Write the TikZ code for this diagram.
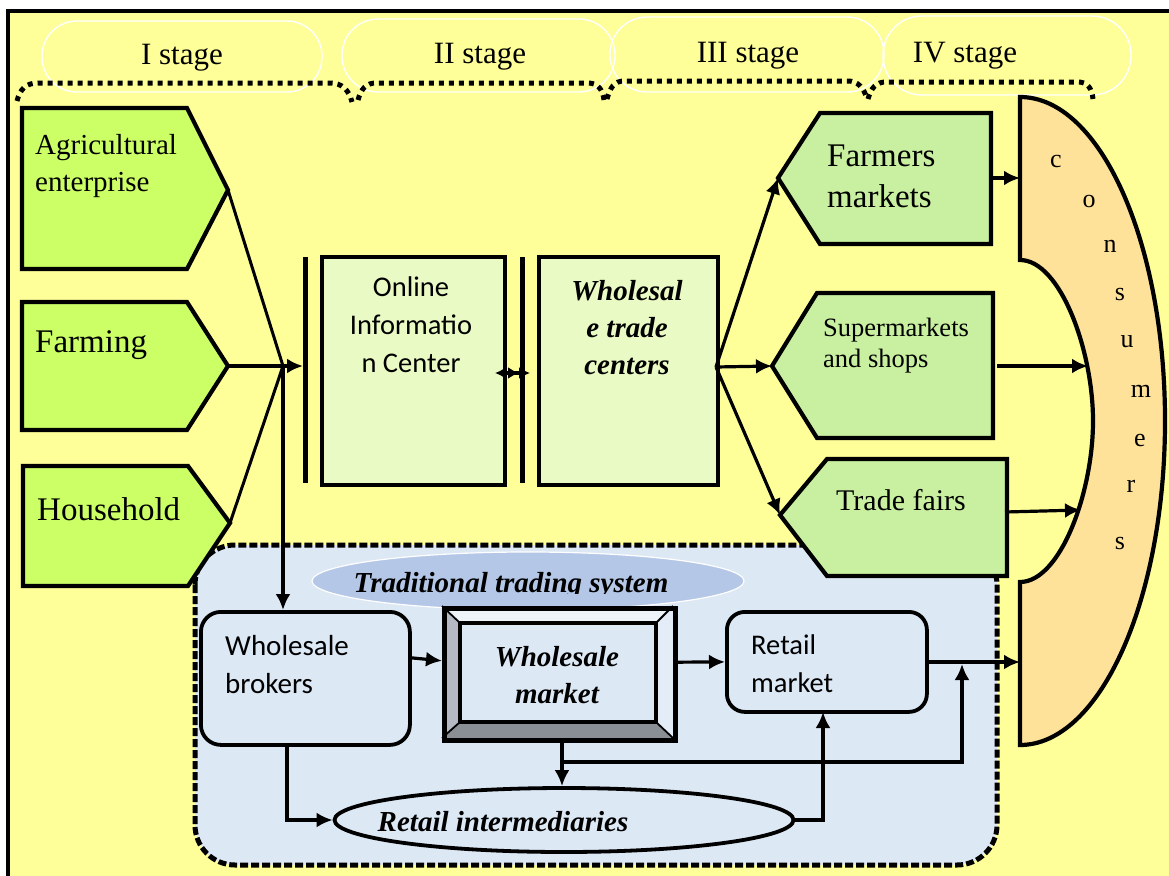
\documentclass[tikz,border=0pt]{standalone}
\usepackage{fontspec}
\setmainfont{Liberation Serif}
\newfontfamily\calibrifont{Carlito}
\usetikzlibrary{arrows.meta,shapes.geometric,calc}
\definecolor{bgyellow}{RGB}{255,255,153}
\definecolor{limeg}{RGB}{204,255,102}
\definecolor{paleg}{RGB}{200,240,160}
\definecolor{palebox}{RGB}{234,250,196}
\definecolor{tradblue}{RGB}{221,232,245}
\definecolor{ellblue}{RGB}{180,199,231}
\definecolor{peach}{RGB}{255,226,154}
\definecolor{bevtop}{RGB}{238,243,250}
\definecolor{bevleft}{RGB}{180,185,196}
\definecolor{bevbot}{RGB}{138,143,150}
\definecolor{bevright}{RGB}{228,236,247}
\begin{document}
\begin{tikzpicture}[x=1pt,y=-1pt,
  pent/.style={draw=black, line width=4.2pt, line join=miter},
  conn/.style={line width=3pt},
  arr/.style={line width=3.2pt, -{Latex[length=16pt,width=15pt]}},
  dotbr/.style={line width=5pt, dash pattern=on 5pt off 5pt},
  bubble/.style={draw=white, line width=1.4pt},
  stagelbl/.style={font=\fontsize{31pt}{36pt}\selectfont, inner sep=0pt},
  tms/.style={inner sep=0pt, align=left},
  cal/.style={inner sep=0pt, font=\calibrifont\fontsize{28.5pt}{38pt}\selectfont},
  bi/.style={inner sep=0pt, font=\bfseries\itshape\fontsize{29pt}{37pt}\selectfont},
  boxg/.style={draw=black, line width=3.8pt, fill=palebox, anchor=north west, inner sep=0pt},
  rbox/.style={draw=black, line width=3.8pt, fill=tradblue, anchor=north west, inner sep=0pt, rounded corners=20pt},
  letter/.style={inner sep=0pt, font=\fontsize{26pt}{30pt}\selectfont}
]
\useasboundingbox (0,0) rectangle (1169,875);
\clip (0,0) rectangle (1169,875);
\fill[white] (0,0) rectangle (1169,875);
\draw[line width=4pt, fill=bgyellow] (8,11) rectangle (1190,895);

% stage bubbles
\draw[bubble, rounded corners=35pt] (42,21) rectangle (322,92);
\draw[bubble, rounded corners=36pt] (342,19) rectangle (615,92);
\draw[bubble, rounded corners=37pt] (610,17) rectangle (884,92);
\draw[bubble, rounded corners=39pt] (883,16) rectangle (1131,95);
\node[stagelbl] (s1) at (182,58) {I stage};
\node[stagelbl] (s2) at (480,57) {II stage};
\node[stagelbl] (s3) at (748,56) {III stage};
\node[stagelbl] (s4) at (965,56) {IV stage};

% dotted brackets
\draw[dotbr] (17,101) .. controls (20,89) and (26,83) .. (38,83) -- (330,83) .. controls (342,83) and (349,90) .. (352,102);
\draw[dotbr] (358,100) .. controls (361,89) and (366,83) .. (376,83) -- (588,83) .. controls (598,83) and (603,90) .. (604,100);
\draw[dotbr] (607,99) .. controls (610,88) and (614,81) .. (624,81) -- (848,81) .. controls (858,81) and (864,88) .. (867,99);
\draw[dotbr] (868,99) .. controls (871,88) and (876,82) .. (886,82) -- (1078,82) .. controls (1088,82) and (1092,89) .. (1093,99);

% traditional trading system region
\draw[line width=5pt, dash pattern=on 8pt off 3pt, fill=tradblue, rounded corners=40pt] (195,545) rectangle (997,865);

% left pentagons
\draw[pent, fill=limeg] (22,108) -- (187,108) -- (228,190) -- (187,269) -- (22,269) -- cycle;
\draw[pent, fill=limeg] (22,302) -- (187,302) -- (228,366) -- (187,430) -- (22,430) -- cycle;
\draw[pent, fill=limeg] (23,466) -- (188,466) -- (230,523) -- (188,586) -- (23,586) -- cycle;
\coordinate (agtip) at (228,190);
\coordinate (fmtip) at (228,366);
\coordinate (hhtip) at (230,523);
\node[tms, anchor=west, font=\fontsize{29pt}{37pt}\selectfont] (agtext) at (35,166) {Agricultural\\enterprise};
\node[tms, anchor=west, font=\fontsize{33pt}{38pt}\selectfont] (fmtext) at (35,345) {Farming};
\node[tms, anchor=west, font=\fontsize{33pt}{38pt}\selectfont] (hhtext) at (37,509) {Household};

% junction and bars
\coordinate (J) at (283,366);
\coordinate (bar1m) at (303,366);
\draw[line width=5pt] (305,257) -- (305,483);
\draw[line width=5pt] (522,257) -- (522,483);
\draw[conn] (agtip) -- (J);
\draw[conn] (hhtip) -- (J);
\draw[arr] (fmtip) -- (bar1m);

% online information center and wholesale trade centers
\node[boxg, minimum width=183pt, minimum height=228pt] (oic) at (320,255) {};
\node[cal, align=center] (oictext) at (411,325) {Online\\Informatio\\n Center};
\node[boxg, minimum width=179pt, minimum height=228pt] (wtc) at (537,255) {};
\node[bi, align=center] (wtctext) at (627,328) {Wholesal\\e trade\\centers};
\coordinate (oicR) at (495,373);
\coordinate (wtcL) at (530,373);
\draw[line width=3.2pt, {Latex[length=11pt,width=12pt]}-{Latex[length=11pt,width=12pt] Latex[length=11pt,width=12pt]}] (oicR) -- (wtcL);

% right pentagons
\draw[pent, fill=paleg] (778,178) -- (820,113) -- (991,113) -- (991,244) -- (820,244) -- cycle;
\draw[pent, fill=paleg] (772,366) -- (817,293) -- (993,293) -- (993,438) -- (817,438) -- cycle;
\draw[pent, fill=paleg] (780,515) -- (827,459) -- (1007,459) -- (1007,576) -- (827,576) -- cycle;
\coordinate (fmkt) at (778,178);
\coordinate (smkt) at (772,366);
\coordinate (tfair) at (780,515);
\node[tms, anchor=west, font=\fontsize{33pt}{41pt}\selectfont] (fmkttext) at (827,176) {Farmers\\markets};
\node[tms, anchor=west, font=\fontsize{26.5pt}{31pt}\selectfont] (smkttext) at (823,346) {Supermarkets\\and shops};
\node[tms, font=\fontsize{30pt}{36pt}\selectfont] (tfairtext) at (901,500) {Trade fairs};
\coordinate (K) at (716,367);
\draw[arr] (K) -- (fmkt);
\draw[arr] (K) -- (smkt);
\draw[arr] (K) -- (tfair);

% consumers
\draw[line width=4.2pt, fill=peach] (1020,97) .. controls (1100,97) and (1165,242) .. (1165,421)
  .. controls (1165,600) and (1100,745) .. (1020,745) -- (1020,582)
  .. controls (1060,582) and (1093,493) .. (1093,421)
  .. controls (1093,350) and (1060,260) .. (1020,260) -- cycle;
\node[letter] (c1) at (1056,161) {c};
\node[letter] (c2) at (1089,201) {o};
\node[letter] (c3) at (1110,246) {n};
\node[letter] (c4) at (1120,294) {s};
\node[letter] (c5) at (1127,342) {u};
\node[letter] (c6) at (1141,391) {m};
\node[letter] (c7) at (1140,440) {e};
\node[letter] (c8) at (1131,486) {r};
\node[letter] (c9) at (1120,543) {s};
\coordinate (cin1) at (1020,178);
\coordinate (cin2) at (1088,366);
\coordinate (cin3) at (1081,510);
\coordinate (cin4) at (1020,662);
\coordinate (fmktR) at (991,178);
\coordinate (smktR) at (997,366);
\coordinate (tfairR) at (1005,512);
\draw[arr] (fmktR) -- (cin1);
\draw[arr] (smktR) -- (cin2);
\draw[arr] (tfairR) -- (cin3);

% traditional trading system ellipse label
\node[ellipse, fill=ellblue, draw=white, line width=1.2pt, minimum width=432pt, minimum height=58pt, inner sep=0pt] (tradell) at (528,581) {};
\begin{scope}
\clip (300,540) rectangle (760,593);
\node[bi, anchor=base] (tradtext) at (511,592) {Traditional trading system};
\end{scope}

% wholesale brokers
\node[rbox, minimum width=209pt, minimum height=133pt] (wb) at (199,610) {};
\node[cal, align=left, anchor=west, font=\calibrifont\fontsize{29pt}{38pt}\selectfont] (wbtext) at (225,665) {Wholesale\\brokers};
\draw[arr] (J) -- (J |- wb.north);

% wholesale market (bevel)
\fill[bevtop] (442,606) -- (673,606) -- (656,623) -- (460,623) -- cycle;
\fill[bevleft] (442,606) -- (460,623) -- (460,722) -- (442,738) -- cycle;
\fill[bevbot] (442,738) -- (460,722) -- (656,722) -- (673,738) -- cycle;
\fill[bevright] (673,606) -- (656,623) -- (656,722) -- (673,738) -- cycle;
\draw[line width=1.8pt] (442,606) -- (460,623) (673,606) -- (656,623) (442,738) -- (460,722) (673,738) -- (656,722);
\draw[line width=4pt, fill=tradblue] (460,623) rectangle (656,722);
\node[draw=black, line width=5pt, anchor=north west, minimum width=231pt, minimum height=132pt, inner sep=0pt] (wm) at (442,606) {};
\node[bi, align=center] (wmtext) at (557,675) {Wholesale\\market};

% retail market
\node[rbox, rounded corners=18pt, minimum width=200pt, minimum height=100pt] (rm) at (725,610) {};
\node[cal, align=left, anchor=west] (rmtext) at (751,664) {Retail\\market};

% retail intermediaries
\node[ellipse, draw=black, line width=3.8pt, fill=tradblue, minimum width=459pt, minimum height=64pt, inner sep=0pt] (ri) at (564,820) {};
\node[bi] (ritext) at (503,822) {Retail intermediaries};

% traditional connectors
\draw[arr] ($(wb.north east)!0.35!(wb.south east)$) -- ($(wm.north west)!0.4!(wm.south west)$);
\draw[arr] ($(wm.north east)!0.41!(wm.south east)$) -- (rm.west);
\draw[arr] (rm.east |- cin4) -- (cin4);
\coordinate (wmb) at (562,738);
\coordinate (split) at (562,762);
\coordinate (up) at (962,664);
\draw[arr] (wmb) -- (wmb |- ri.north);
\draw[arr] (split) -| (up);
\coordinate (wbb) at (287,743);
\draw[arr] (wbb) |- (ri.west);
\coordinate (rmb) at (823,712);
\draw[arr] (ri.east) -| (rmb);
\end{tikzpicture}
\end{document}
